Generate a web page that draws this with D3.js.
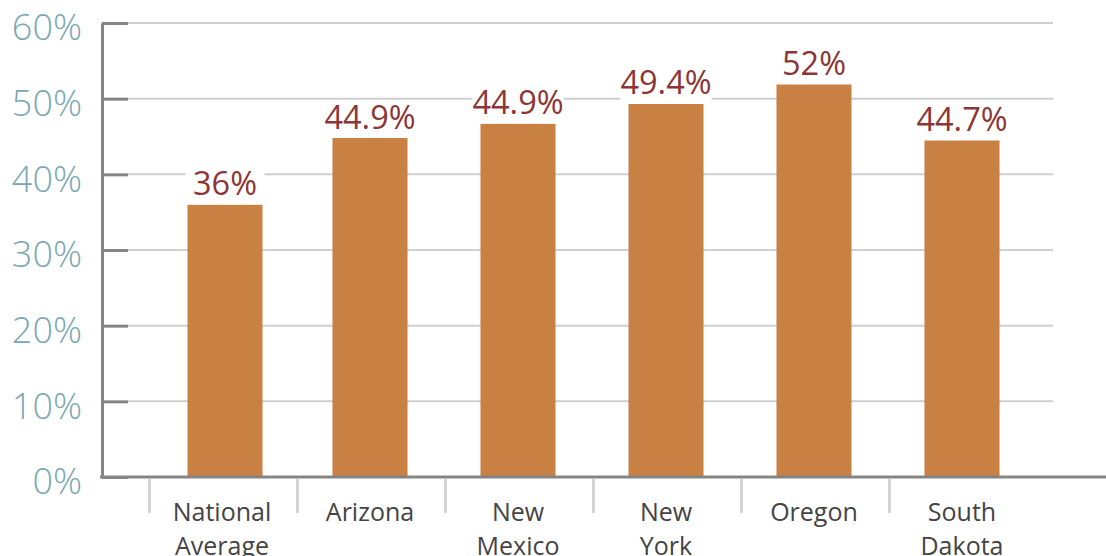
<!DOCTYPE html>
<html>
<head>
<meta charset="utf-8">
<script src="https://cdn.jsdelivr.net/npm/d3@7"></script>
<style>
  body { margin: 0; background: #fff; }
  svg { display: block; font-family: "Open Sans", sans-serif; }
</style>
</head>
<body>
<script>
// data
var categories = ["National Average", "Arizona", "New Mexico", "New York", "Oregon", "South Dakota"];
var catLines = [["National", "Average"], ["Arizona"], ["New", "Mexico"], ["New", "York"], ["Oregon"], ["South", "Dakota"]];
var values = [36, 44.8, 46.7, 49.3, 51.9, 44.5];   // bar heights as drawn
var valueLabels = ["36%", "44.9%", "44.9%", "49.4%", "52%", "44.7%"];
var yTicks = [0, 10, 20, 30, 40, 50, 60];

var width = 1106, height = 556;

var svg = d3.select("body").append("svg")
    .attr("width", width)
    .attr("height", height);

var y = d3.scaleLinear().domain([0, 60]).range([477, 23]);
var x = d3.scaleBand()
    .domain(categories)
    .range([148, 148 + 148 * 6])
    .paddingInner(0.493)
    .paddingOuter(0.2465);

// gridlines
svg.append("g").selectAll("line")
    .data(yTicks.filter(function(d) { return d > 0; }))
    .enter().append("line")
    .attr("x1", 128).attr("x2", 1053)
    .attr("y1", function(d) { return y(d); })
    .attr("y2", function(d) { return y(d); })
    .attr("stroke", "#cfcfcf")
    .attr("stroke-width", 2);

// y axis
var yAxis = svg.append("g")
    .attr("transform", "translate(102,0)")
    .call(d3.axisLeft(y).tickValues(yTicks).tickSize(-26).tickSizeOuter(0)
      .tickFormat(function(d) { return d + "%"; }));
yAxis.select(".domain").attr("stroke", "#858585").attr("stroke-width", 3);
yAxis.selectAll(".tick line").attr("stroke", "#858585").attr("stroke-width", 3);
yAxis.selectAll(".tick text")
    .attr("x", -20)
    .attr("dy", "0.47em")
    .attr("fill", "#79a8b0")
    .style("font-size", "36px")
    .style("font-weight", 300)
    .style("font-family", "'Open Sans', sans-serif");

// separators under the axis
var step = x.step();
svg.append("g").selectAll("line")
    .data(categories)
    .enter().append("line")
    .attr("x1", function(d) { return x(d) - x.paddingOuter() * step + 1.5; })
    .attr("x2", function(d) { return x(d) - x.paddingOuter() * step + 1.5; })
    .attr("y1", 479).attr("y2", 513)
    .attr("stroke", "#d4d4d4")
    .attr("stroke-width", 3);

// bars
svg.append("g").selectAll("rect")
    .data(values)
    .enter().append("rect")
    .attr("x", function(d, i) { return x(categories[i]) + (i === 0 ? 3 : 0); })
    .attr("y", function(d) { return y(d); })
    .attr("width", x.bandwidth())
    .attr("height", function(d) { return y(0) - y(d); })
    .attr("fill", "#c98043");

// baseline
svg.append("line")
    .attr("x1", 100).attr("x2", width)
    .attr("y1", y(0)).attr("y2", y(0))
    .attr("stroke", "#858585")
    .attr("stroke-width", 3);

// value labels with white box behind
var lab = svg.append("g").selectAll("g")
    .data(values)
    .enter().append("g");

function barCenter(i) {
  return x(categories[i]) + (i === 0 ? 3 : 0) + x.bandwidth() / 2;
}

lab.append("rect").attr("class", "bg").attr("fill", "#fff");
lab.append("text")
    .attr("x", function(d, i) { return barCenter(i); })
    .attr("y", function(d) { return y(d) - 9.5; })
    .attr("text-anchor", "middle")
    .attr("fill", "#8c3636")
    .style("font-size", "32.5px")
    .text(function(d, i) { return valueLabels[i]; });

lab.each(function(d, i) {
  var g = d3.select(this);
  var w = g.select("text").node().getComputedTextLength();
  var bw = Math.max(w, x.bandwidth() + 4);
  var cx = barCenter(i);
  g.select("rect")
    .attr("x", cx - bw / 2)
    .attr("y", y(d) - 37)
    .attr("width", bw)
    .attr("height", 37);
});

// category labels
var cat = svg.append("g").selectAll("text")
    .data(categories)
    .enter().append("text")
    .attr("x", function(d) { return x(d) + x.bandwidth() / 2; })
    .attr("y", 521)
    .attr("text-anchor", "middle")
    .attr("fill", "#444")
    .style("font-size", "25px");

cat.selectAll("tspan")
    .data(function(d, i) { return catLines[i]; })
    .enter().append("tspan")
    .attr("x", function() { return d3.select(this.parentNode).attr("x"); })
    .attr("dy", function(d, j) { return j === 0 ? 0 : 34; })
    .text(function(d) { return d; });
</script>
</body>
</html>
